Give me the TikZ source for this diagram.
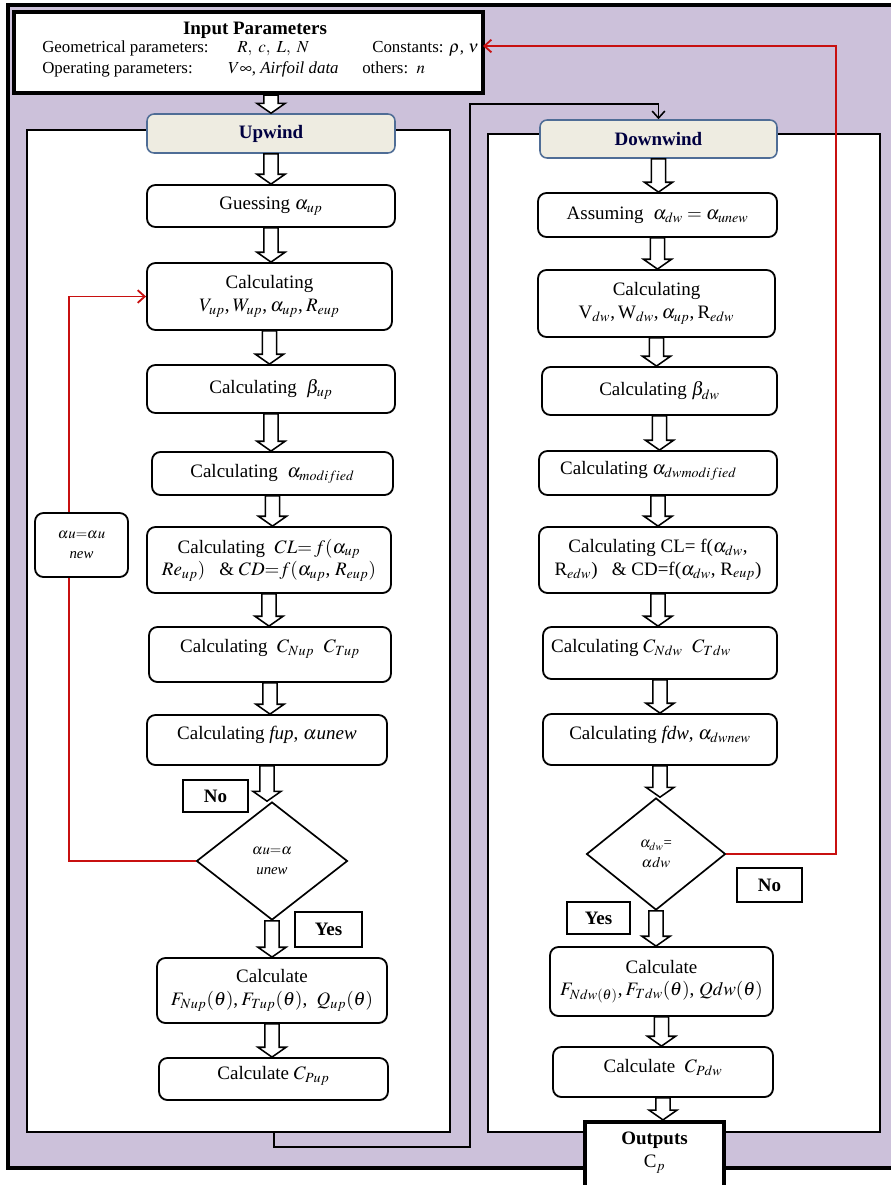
\documentclass[tikz,border=0pt]{standalone}
\usepackage{mathptmx}
\usepackage[no-math]{fontspec}
\setmainfont{Liberation Serif}
\usetikzlibrary{shapes.geometric,arrows.meta,calc}
\definecolor{bgp}{RGB}{204,193,218}
\definecolor{hdrfill}{RGB}{238,236,225}
\definecolor{hdrline}{RGB}{79,109,150}
\definecolor{lred}{RGB}{200,16,16}
\newcommand{\fA}{\fontsize{13.5}{16}\selectfont}
\newcommand{\fB}{\fontsize{12}{14}\selectfont}
\newcommand{\fC}{\fontsize{10.5}{14}\selectfont}
\tikzset{
 corners/.style n args={4}{minimum width={(#3-#1)*0.025cm}, minimum height={(#4-#2)*0.025cm}, at={({(#1+#3)/2},{(#2+#4)/2})}},
 tdep/.style={text depth=#1},
 rbox/.style={draw, line width=1.3pt, rounded corners=6pt, fill=white, align=center, inner sep=0pt, font=\fA},
 panel/.style={draw, line width=1pt, fill=white, inner sep=0pt},
 hdr/.style={draw=hdrline, fill=hdrfill, line width=1.1pt, rounded corners=5pt, inner sep=0pt, font=\fA\bfseries, text=black!75!blue},
 tagbox/.style={draw, line width=1.3pt, fill=white, inner sep=0pt, font=\fA\bfseries},
 dia/.style={diamond, draw, line width=1.2pt, fill=white, inner sep=0pt, align=center, font=\fC},
 txt/.style={inner sep=0pt, font=\fB},
 blockarrow/.style={draw, fill=white, line width=1.1pt, to path={let \p1=(\tikztostart), \p2=(\tikztotarget) in (\x1-5pt,\y1) -- (\x1-5pt,\y2+7pt) -- (\x1-10pt,\y2+7pt) -- (\x1,\y2) -- (\x1+10pt,\y2+7pt) -- (\x1+5pt,\y2+7pt) -- (\x1+5pt,\y1) -- cycle}},
 redline/.style={draw=lred, line width=1.3pt, -{Straight Barb[length=5pt,width=9pt]}},
 conn/.style={draw, line width=1.1pt, -{Straight Barb[length=5pt,width=9pt]}},
}
\begin{document}
\begin{tikzpicture}[x=0.025cm, y=-0.025cm]
\useasboundingbox (0,0) rectangle (890,1185);
% background
\fill[bgp] (8,5) rectangle (895,1168);
\draw[line width=2.8pt] (895,5) -- (8,5) -- (8,1168) -- (895,1168);
% panels
\node[panel, corners={27}{130}{450}{1132}] (upanel) {};
\node[panel, corners={488}{134}{880}{1132}] (dpanel) {};
% input box
\node[draw, line width=3pt, fill=white, inner sep=0pt, corners={14}{12}{483}{93}] (inp) {};
\node[txt, font=\fA\bfseries] (in1) at (255,30) {Input Parameters};
\node[txt, anchor=base west] (in2) at (42,52) {Geometrical parameters:};
\node[txt, anchor=base west] (in3) at (237,52) {$R,\ c,\ L,\ N$};
\node[txt, anchor=base west] (in4) at (372,52) {Constants: $\rho$, $\nu$};
\node[txt, anchor=base west] (in5) at (42,73) {Operating parameters:};
\node[txt, anchor=base west] (in6) at (228,73) {$V\infty$, \textit{Airfoil data}};
\node[txt, anchor=base west] (in7) at (362,73) {others:\ \ $n$};
% headers
\node[hdr, corners={147}{114}{395}{153}] (uhdr) {Upwind};
\node[hdr, corners={540}{120}{777}{158}] (dhdr) {Downwind};
% connector upwind -> downwind
\coordinate (cstart) at (274,1132);
\draw[conn] (cstart) -- (274,1147) -- (470,1147) -- (470,104) -| (dhdr.north);
% upwind boxes
\node[rbox, corners={147}{185}{395}{227}] (u1) {Guessing $\alpha_{up}$};
\node[rbox, corners={147}{263}{392}{330}] (u2) {Calculating\\$V_{up}$,\,$W_{up}$,\,$\alpha_{up}$,\,$R_{eup}$};
\node[rbox, corners={147}{365}{395}{413}] (u3) {Calculating\ \ $\beta_{up}$};
\node[rbox, corners={152}{452}{393}{495}] (u4) {Calculating\ \ $\alpha_{modified}$};
\node[rbox, corners={147}{527}{391}{593}] (u5) {Calculating\ \ $CL{=}\,f(\alpha_{up}$\\$Re_{up})$\ \ \ \& $CD{=}f(\alpha_{up}$,\ $R_{eup})$};
\node[rbox, tdep=12pt, corners={149}{627}{391}{682}] (u6) {Calculating\ \ $C_{Nup}$\ \ $C_{Tup}$};
\node[rbox, tdep=10pt, corners={147}{715}{387}{765}] (u7) {Calculating \textit{fup}, $\alpha$\textit{unew}};
\node[dia, minimum width=151*0.025cm, minimum height=118*0.025cm] (ud) at (272,861) {$\alpha u{=}\alpha$\\\textit{unew}};
\node[rbox, corners={157}{958}{387}{1023}] (u8) {Calculate\\$F_{Nup}(\theta)$,\,$F_{Tup}(\theta)$,\ \ $Q_{up}(\theta)$};
\node[rbox, tdep=9pt, corners={159}{1058}{388}{1100}] (u9) {Calculate $C_{Pup}$};
% downwind boxes
\node[rbox, corners={538}{193}{777}{237}] (d1) {Assuming\ \ $\alpha_{dw}=\alpha_{unew}$};
\node[rbox, corners={538}{270}{775}{337}] (d2) {Calculating\\V$_{dw}$,\,W$_{dw}$,\,$\alpha_{up}$,\,R$_{edw}$};
\node[rbox, corners={542}{367}{777}{415}] (d3) {Calculating $\beta_{dw}$};
\node[rbox, tdep=7pt, corners={539}{451}{777}{495}] (d4) {Calculating $\alpha_{dwmodified}$\hspace*{1em}};
\node[rbox, corners={539}{527}{777}{593}] (d5) {Calculating CL= f($\alpha_{dw}$,\\R$_{edw}$)\ \ \ \& CD=f($\alpha_{dw}$, R$_{eup}$)};
\node[rbox, tdep=10pt, corners={543}{627}{777}{679}] (d6) {Calculating $C_{Ndw}$\ \ $C_{Tdw}$\hspace*{2em}};
\node[rbox, tdep=10pt, corners={543}{714}{777}{765}] (d7) {Calculating \textit{fdw}, $\alpha_{dwnew}$};
\node[dia, minimum width=139*0.025cm, minimum height=112*0.025cm] (dd) at (656,854) {$\alpha_{dw}$=\\$\alpha dw$};
\node[rbox, corners={550}{947}{773}{1016}] (d8) {Calculate\\$F_{Ndw(\theta)}$,\,$F_{Tdw}(\theta)$,\ $Qdw(\theta)$};
\node[rbox, tdep=9pt, corners={553}{1047}{773}{1097}] (d9) {Calculate\ \ $C_{Pdw}$};
\node[draw, line width=3pt, fill=white, inner sep=0pt, align=center, font=\fA, tdep=9pt, corners={585}{1122}{724}{1190}] (out) {\textbf{Outputs}\\C$_p$};
% block arrows
\draw[blockarrow] (inp.south -| uhdr.north) to (uhdr.north);
\draw[blockarrow] (uhdr.south) to (u1.north);
\draw[blockarrow] (u1.south) to (u2.north);
\draw[blockarrow] (u2.south) to (u3.north);
\draw[blockarrow] (u3.south) to (u4.north);
\draw[blockarrow] (u4.south) to (u5.north);
\draw[blockarrow] (u5.south) to (u6.north);
\draw[blockarrow] (u6.south) to (u7.north);
\draw[blockarrow] (u7.south) to (ud.north);
\draw[blockarrow] (ud.south) to (u8.north);
\draw[blockarrow] (u8.south) to (u9.north);
\draw[blockarrow] (dhdr.south) to (d1.north);
\draw[blockarrow] (d1.south) to (d2.north);
\draw[blockarrow] (d2.south) to (d3.north);
\draw[blockarrow] (d3.south) to (d4.north);
\draw[blockarrow] (d4.south) to (d5.north);
\draw[blockarrow] (d5.south) to (d6.north);
\draw[blockarrow] (d6.south) to (d7.north);
\draw[blockarrow] (d7.south) to (dd.north);
\draw[blockarrow] (dd.south) to (d8.north);
\draw[blockarrow] (d8.south) to (d9.north);
\draw[blockarrow] (d9.south) to (out.north);
% red feedback lines
\draw[redline] (ud.west) -| ($(u2.west)+(-77,0)$) -- (u2.west);
\coordinate (inpR) at (483,46);
\draw[redline] (dd.east) -| (836,46) -- (inpR);
\node[rbox, font=\fC\itshape, corners={35}{513}{128}{577}] (uloop) {$\alpha u{=}\alpha u$\\new};
% tags
\node[tagbox, corners={183}{780}{248}{812}] (uno) {No};
\node[tagbox, corners={295}{912}{362}{947}] (uyes) {Yes};
\node[tagbox, corners={737}{868}{802}{902}] (dno) {No};
\node[tagbox, corners={567}{902}{630}{934}] (dyes) {Yes};
\end{tikzpicture}
\end{document}
